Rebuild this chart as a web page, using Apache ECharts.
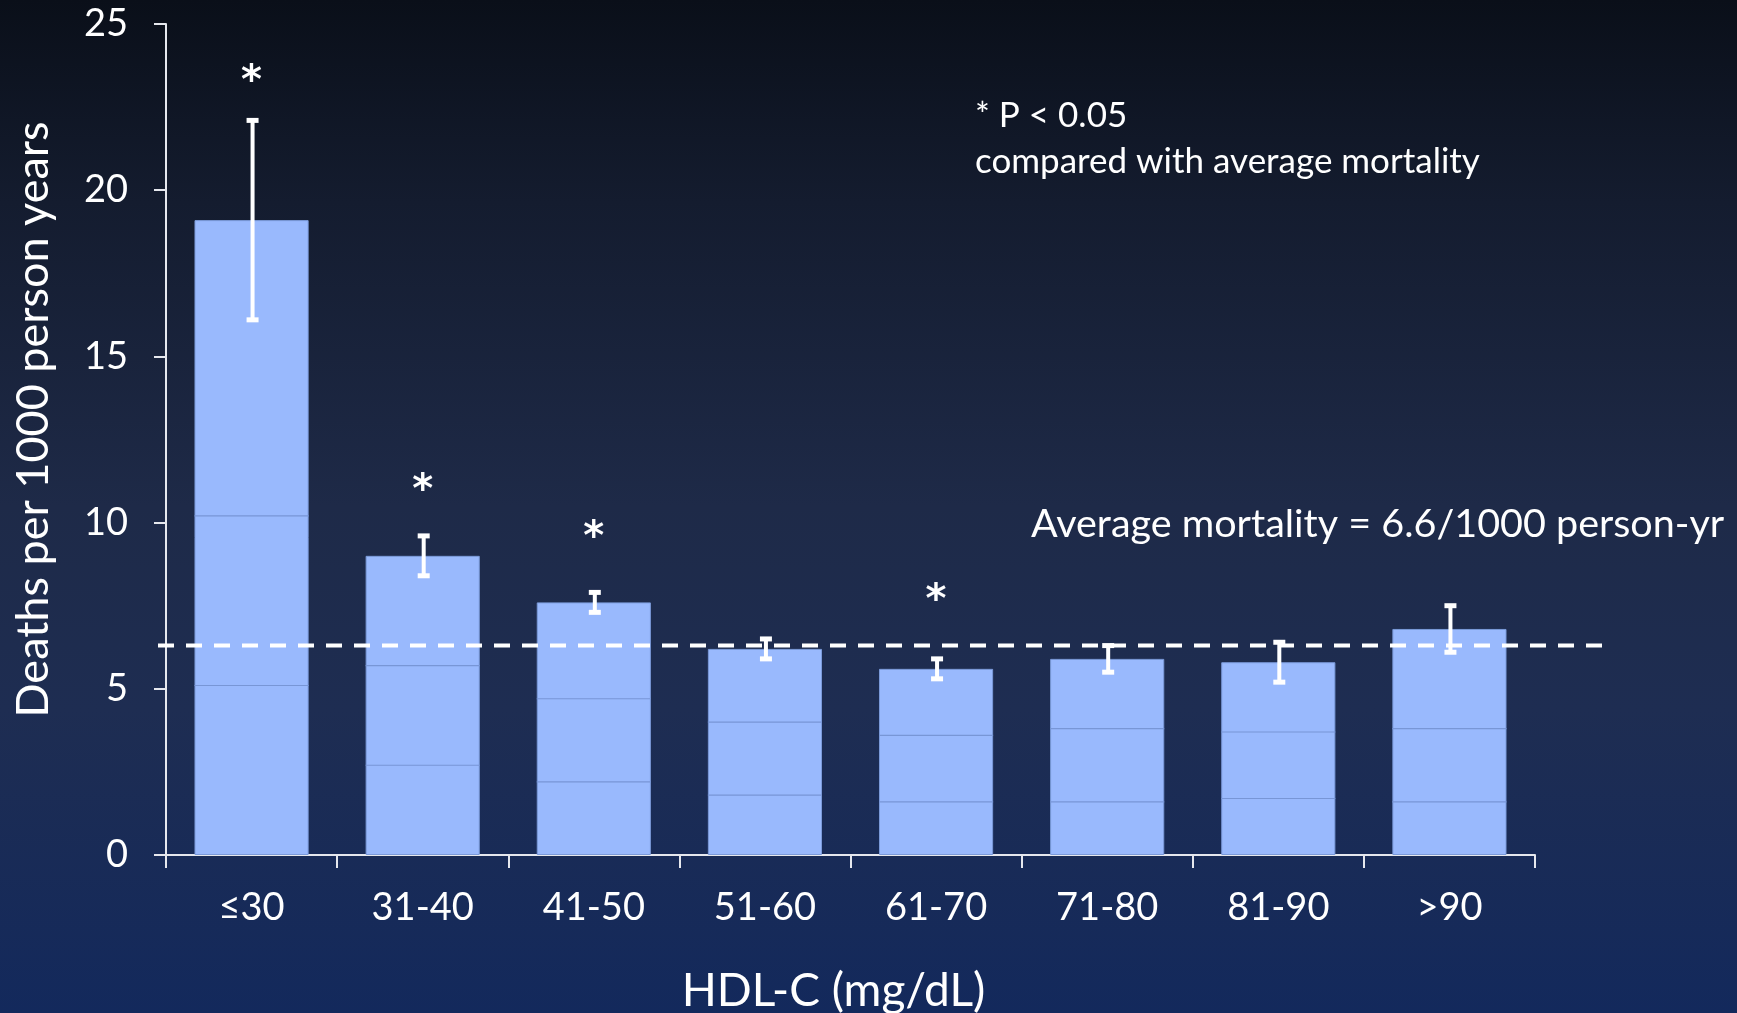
<!DOCTYPE html>
<html><head><meta charset="utf-8">
<script src="https://cdn.jsdelivr.net/npm/echarts@6/dist/echarts.min.js"></script>
<style>
html,body{margin:0;padding:0;width:1737px;height:1013px;overflow:hidden;}
#c{width:1737px;height:1013px;background:linear-gradient(to bottom,#0a0f19 0%,#141c2f 20%,#1e2a48 50%,#1e2d52 70%,#13295c 100%);}
</style></head><body>
<div id="c"></div>
<script>
const categories = ['≤30','31-40','41-50','51-60','61-70','71-80','81-90','>90'];
const deaths = [19.1, 9.0, 7.6, 6.2, 5.6, 5.9, 5.8, 6.8];
const errLow = [16.1, 8.4, 7.3, 5.9, 5.3, 5.5, 5.2, 6.1];
const errHigh = [22.1, 9.6, 7.9, 6.5, 5.9, 6.3, 6.4, 7.5];
const starY = [23.5, 11.2, 9.8, null, 7.9, null, null, null];
const bandLinesLow = [5.1, 2.7, 2.2, 1.8, 1.6, 1.6, 1.7, 1.6];
const bandLinesHigh = [10.2, 5.7, 4.7, 4.0, 3.6, 3.8, 3.7, 3.8];
const averageLine = 6.3;
const yTicks = [0, 5, 10, 15, 20, 25];

const FONT = 'Lato';
const chart = echarts.init(document.getElementById('c'), null, {renderer:'canvas'});
const barGapRatio = 0.667;

chart.setOption({
  backgroundColor: 'transparent',
  animation: false,
  textStyle: {fontFamily: FONT, color: '#fff'},
  grid: {left: 166, right: 202, top: 24, bottom: 158, containLabel: false, outerBoundsMode: 'none'},
  xAxis: {
    type: 'category', data: categories,
    axisLine: {lineStyle: {color: '#e6e8ee', width: 2}},
    axisTick: {show: true, length: 13, lineStyle: {color: '#e6e8ee', width: 2}, alignWithLabel: false},
    axisLabel: {color: '#fff', fontSize: 38, fontFamily: FONT, margin: 34},
    name: 'HDL-C (mg/dL)', nameLocation: 'middle', nameGap: 113,
    nameTextStyle: {color: '#fff', fontSize: 46, fontFamily: FONT, padding: [0, 34, 0, 0]}
  },
  yAxis: {
    type: 'value', min: 0, max: 25, interval: 5,
    axisLine: {show: true, lineStyle: {color: '#e6e8ee', width: 2}},
    axisTick: {show: true, length: 12, lineStyle: {color: '#e6e8ee', width: 2}},
    splitLine: {show: false},
    axisLabel: {color: '#fff', fontSize: 38, fontFamily: FONT, margin: 38,
      formatter: v => yTicks.includes(v) ? String(v) : ''},
    name: 'Deaths per 1000 person years', nameLocation: 'middle', nameGap: 110, nameRotate: 90,
    nameTextStyle: {color: '#fff', fontSize: 45, fontFamily: FONT, padding: [0, 0, 0, 40]}
  },
  series: [
    {
      type: 'bar', data: deaths, barCategoryGap: '33.3%',
      itemStyle: {color: '#99b9fd', borderColor: '#7b9ad9', borderWidth: 1},
      z: 2
    },
    {
      type: 'custom', z: 3,
      data: categories.map((c, i) => [i, bandLinesLow[i], bandLinesHigh[i]]),
      renderItem: function (params, api) {
        const i = api.value(0);
        const bw = api.size([1, 0])[0] * barGapRatio;
        const p1 = api.coord([i, api.value(1)]);
        const p2 = api.coord([i, api.value(2)]);
        const st = {stroke: '#7896d6', lineWidth: 1.2};
        return {type: 'group', children: [
          {type: 'line', shape: {x1: p1[0]-bw/2, y1: p1[1], x2: p1[0]+bw/2, y2: p1[1]}, style: st},
          {type: 'line', shape: {x1: p2[0]-bw/2, y1: p2[1], x2: p2[0]+bw/2, y2: p2[1]}, style: st}
        ]};
      }
    },
    {
      type: 'custom', z: 5,
      data: categories.map((c, i) => [i, errLow[i], errHigh[i]]),
      renderItem: function (params, api) {
        const i = api.value(0);
        const lo = api.coord([i, api.value(1)]);
        const hi = api.coord([i, api.value(2)]);
        const x = lo[0] + 1, cw = 6;
        const st = {stroke: '#ffffff', lineWidth: 4};
        const cst = {stroke: '#ffffff', lineWidth: 5};
        return {type: 'group', children: [
          {type: 'line', shape: {x1: x, y1: hi[1], x2: x, y2: lo[1]}, style: st},
          {type: 'line', shape: {x1: x-cw, y1: hi[1], x2: x+cw, y2: hi[1]}, style: cst},
          {type: 'line', shape: {x1: x-cw, y1: lo[1], x2: x+cw, y2: lo[1]}, style: cst}
        ]};
      }
    },
    {
      type: 'custom', z: 6,
      data: categories.map((c, i) => [i, starY[i] == null ? NaN : starY[i]]),
      renderItem: function (params, api) {
        const v = api.value(1);
        if (isNaN(v)) return null;
        const p = api.coord([api.value(0), v]);
        return {type: 'text', x: p[0], y: p[1] + 9,
          style: {text: '*', fill: '#fff', fontSize: 40, fontWeight: 'bold', fontFamily: 'DejaVu Sans', align: 'center', verticalAlign: 'middle'}};
      }
    }
  ],
  graphic: []
});

function drawOverlay() {
  const y = chart.convertToPixel({yAxisIndex: 0}, averageLine);
  const x0 = chart.convertToPixel({xAxisIndex: 0}, 0);
  const step = chart.convertToPixel({xAxisIndex: 0}, 1) - x0;
  const axisLeft = x0 - step / 2;
  const axisRight = axisLeft + step * categories.length;
  chart.setOption({graphic: [
    {type: 'line', z: 10, shape: {x1: axisLeft - 8, y1: y, x2: axisRight + 68, y2: y},
      style: {stroke: '#ffffff', lineWidth: 4, lineDash: [16, 12]}},
    {type: 'text', z: 10, left: 1031, top: 504,
      style: {text: 'Average mortality = 6.6/1000 person-yr', fill: '#fff', fontSize: 39.5, fontFamily: FONT}},
    {type: 'text', z: 10, left: 975, top: 93,
      style: {text: '* P < 0.05\ncompared with average mortality', fill: '#fff', fontSize: 35, lineHeight: 46, fontFamily: FONT}}
  ]});
}
drawOverlay();
</script>
</body></html>
